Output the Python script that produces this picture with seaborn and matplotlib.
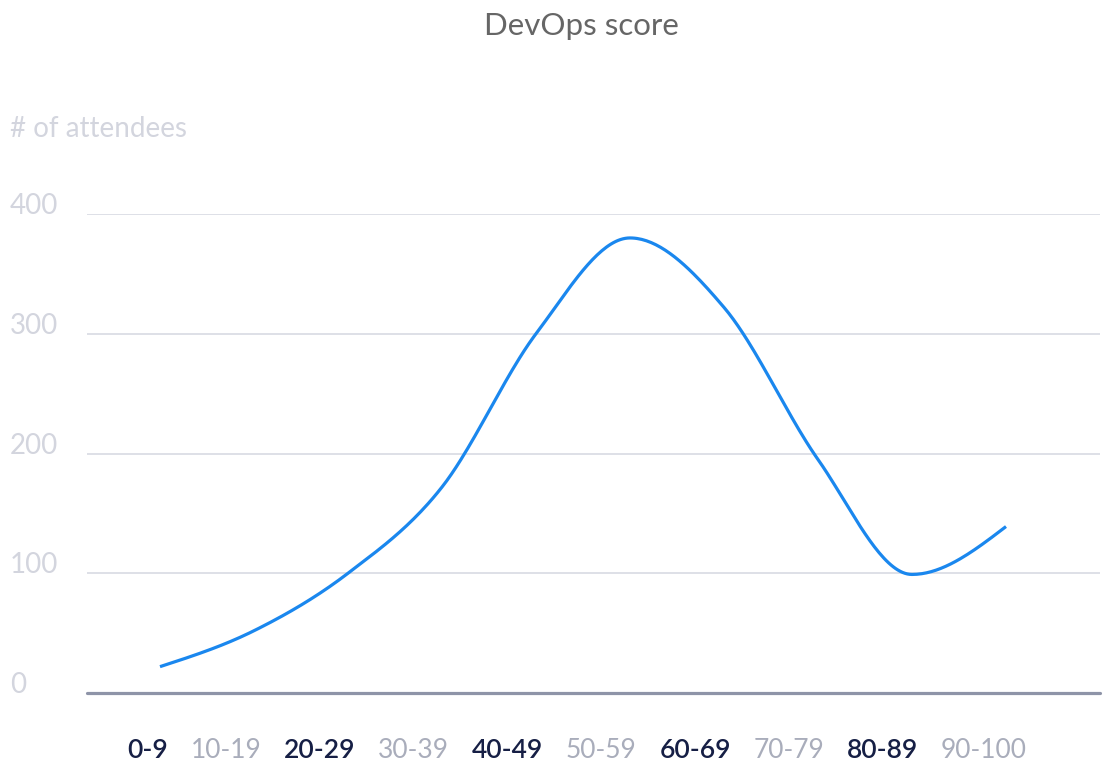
import numpy as np
import matplotlib
matplotlib.use("Agg")
import matplotlib.pyplot as plt
import matplotlib.transforms as mtransforms
import seaborn as sns
import pandas as pd

categories = ["0-9", "10-19", "20-29", "30-39", "40-49", "50-59", "60-69", "70-79", "80-89", "90-100"]
attendees = [22, 52, 100, 172, 300, 380, 322, 195, 99, 139]
y_ticks = [0, 100, 200, 300, 400]

title = "DevOps score"
y_title = "# of attendees"

sns.set_theme(style="white")
plt.rcParams['font.family'] = ['Lato', 'DejaVu Sans']

W, H = 1103, 762


def monotone_curve(xs, ys, n=40):
    xs = np.asarray(xs, float); ys = np.asarray(ys, float)
    h = np.diff(xs); s = np.diff(ys) / h
    m = np.zeros_like(ys)
    for i in range(1, len(xs) - 1):
        s0, s1 = s[i - 1], s[i]
        p = (s0 * h[i] + s1 * h[i - 1]) / (h[i - 1] + h[i])
        m[i] = (np.sign(s0) + np.sign(s1)) * min(abs(s0), abs(s1), 0.5 * abs(p))
    m[0] = (3 * s[0] - m[1]) / 2
    m[-1] = (3 * s[-1] - m[-2]) / 2
    px, py = [], []
    for i in range(len(xs) - 1):
        t = np.linspace(0, 1, n, endpoint=(i == len(xs) - 2))
        h00 = 2 * t**3 - 3 * t**2 + 1
        h10 = t**3 - 2 * t**2 + t
        h01 = -2 * t**3 + 3 * t**2
        h11 = t**3 - t**2
        px.append(xs[i] + t * h[i])
        py.append(h00 * ys[i] + h10 * h[i] * m[i] + h01 * ys[i + 1] + h11 * h[i] * m[i + 1])
    return np.concatenate(px), np.concatenate(py)


fig = plt.figure(figsize=(W / 100, H / 100), dpi=100)
ax = fig.add_axes([87 / W, 1 - 693 / H, (1100 - 87) / W, (693 - 214) / H])

pos = np.arange(len(categories))
cx, cy = monotone_curve(pos, attendees)
df = pd.DataFrame({"x": cx, "y": cy})
sns.lineplot(data=df, x="x", y="y", ax=ax, color="#1a87ee", linewidth=2.3, sort=False,
             estimator=None, solid_capstyle="butt")

ax.set_xlim((87 - 160) / 94, (1100 - 160) / 94)
ax.set_ylim(0, 400)

for v in y_ticks[1:]:
    ax.axhline(v, color="#d8dae3", linewidth=1.2, zorder=0)
ax.axhline(0, color="#8e94a8", linewidth=2.3, zorder=1, clip_on=False)

for s in ax.spines.values():
    s.set_visible(False)

ax.set_yticks([])
ax.set_xticks([])
ax.set_xlabel("")
ax.set_ylabel("")

# y tick labels, left aligned at the figure edge, sitting on their gridlines
ylab_tr = mtransforms.blended_transform_factory(fig.transFigure, ax.transData)
for v in y_ticks:
    ax.text(10 / W, v, str(v), transform=ylab_tr, ha="left", va="baseline",
            fontsize=20, color="#d3d5de", clip_on=False)

fig.text(10 / W, 1 - 137 / H, y_title, ha="left", va="baseline", fontsize=20, color="#d3d5de")
fig.text(581 / W, 1 - 35 / H, title, ha="center", va="baseline", fontsize=22.5, color="#666666")

# category labels laid out inline in a row under the axis
texts = []
for i, c in enumerate(categories):
    t = fig.text(0, 1 - 758 / H, c, ha="left", va="baseline", fontsize=19,
                 color="#161f45" if i % 2 == 0 else "#a9adbb",
                 fontweight="semibold" if i % 2 == 0 else "normal")
    texts.append(t)
fig.canvas.draw()
r = fig.canvas.get_renderer()
widths = [t.get_window_extent(renderer=r).width for t in texts]
x0, x1 = 127, 1027
gap = ((x1 - x0) - sum(widths)) / (len(texts) - 1)
x = x0
for t, w in zip(texts, widths):
    t.set_x(x / W)
    x += w + gap

fig.savefig("out.png", dpi=100)
